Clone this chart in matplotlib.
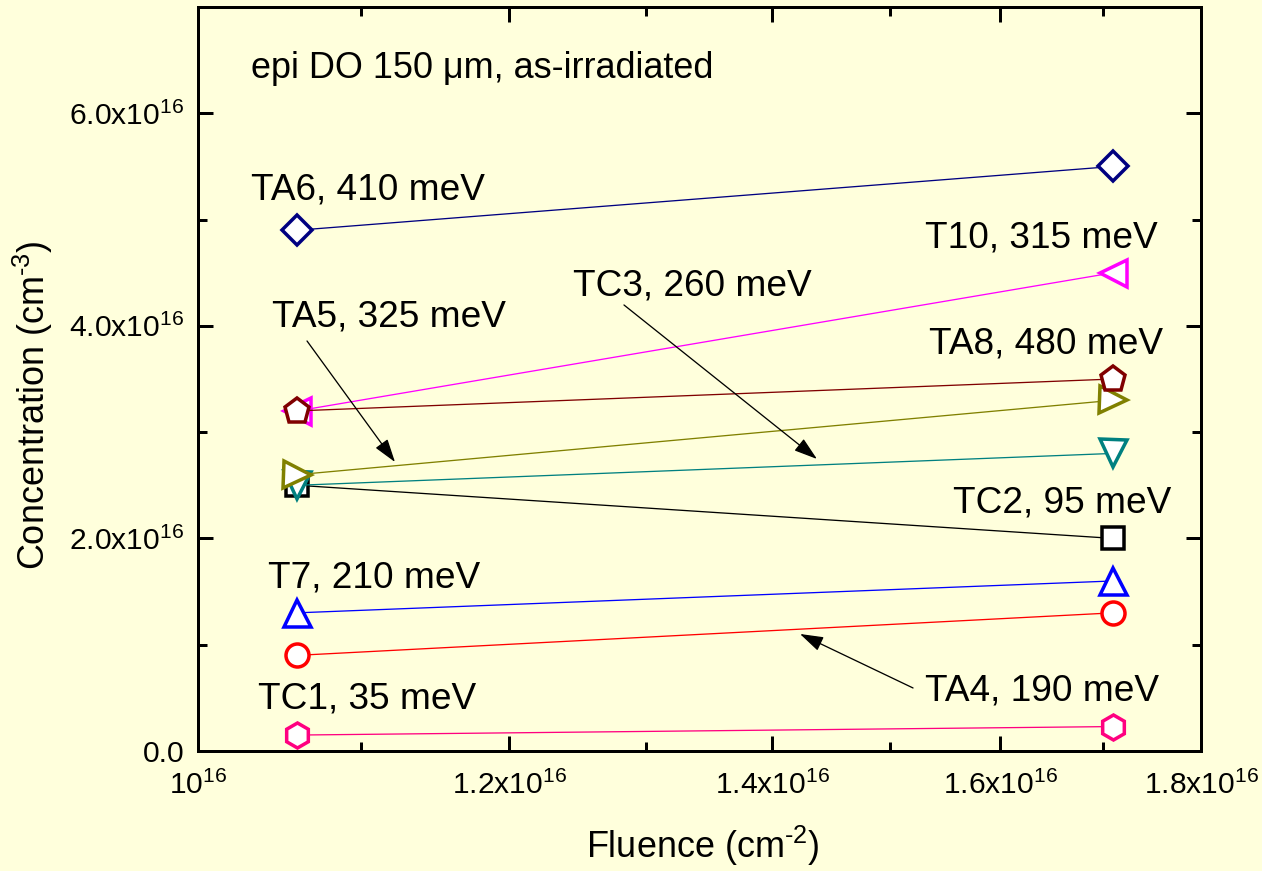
import matplotlib
matplotlib.use("Agg")
import matplotlib.pyplot as plt
from matplotlib.ticker import FixedLocator, NullFormatter

plt.rcParams['font.family'] = ['Liberation Sans', 'DejaVu Sans']
plt.rcParams['mathtext.fontset'] = 'custom'
plt.rcParams['mathtext.rm'] = 'Liberation Sans'
plt.rcParams['mathtext.it'] = 'Liberation Sans:italic'
plt.rcParams['mathtext.bf'] = 'Liberation Sans:bold'

# ---- data -------------------------------------------------------------
fluence = [1.06e16, 1.71e16]

tc2 = [2.5e16, 2.0e16]     # TC2, 95 meV
tc3 = [2.5e16, 2.8e16]     # TC3, 260 meV
ta5 = [2.6e16, 3.3e16]     # TA5, 325 meV
t10 = [3.2e16, 4.5e16]     # T10, 315 meV
ta8 = [3.2e16, 3.5e16]     # TA8, 480 meV
ta6 = [4.9e16, 5.5e16]     # TA6, 410 meV
t7 = [1.3e16, 1.6e16]      # T7, 210 meV
ta4 = [0.9e16, 1.3e16]     # TA4, 190 meV
tc1 = [0.15e16, 0.23e16]   # TC1, 35 meV

x_major = [1.0e16, 1.2e16, 1.4e16, 1.6e16, 1.8e16]
x_major_labels = [r'$\mathregular{10^{16}}$', r'$\mathregular{1.2x10^{16}}$',
                  r'$\mathregular{1.4x10^{16}}$', r'$\mathregular{1.6x10^{16}}$',
                  r'$\mathregular{1.8x10^{16}}$']
x_minor = [1.1e16, 1.3e16, 1.5e16, 1.7e16]
y_major = [0.0, 2.0e16, 4.0e16, 6.0e16]
y_major_labels = ['0.0', r'$\mathregular{2.0x10^{16}}$',
                  r'$\mathregular{4.0x10^{16}}$', r'$\mathregular{6.0x10^{16}}$']
y_minor = [1.0e16, 3.0e16, 5.0e16]

# ---- figure -----------------------------------------------------------
bg = '#FFFFDC'
fig = plt.figure(figsize=(1262 / 72, 871 / 72), dpi=72, facecolor=bg)
ax = fig.add_axes([198 / 1262, 120 / 871, 1003 / 1262, 744 / 871], facecolor=bg)

mew = 3.5
lw = 1.3
series = [
    (tc2, 'black', 's', 22),
    (tc3, '#008080', 'v', 27),
    (ta5, '#808000', '>', 27),
    (t10, '#FF00FF', '<', 27),
    (ta8, '#800000', 'p', 26),
    (ta6, '#000080', 'D', 21),
    (t7, '#0000FF', '^', 27),
    (ta4, '#FF0000', 'o', 23),
    (tc1, '#FF0080', 'h', 25),
]
for vals, col, mk, ms in series:
    ax.plot(fluence, vals, color=col, lw=lw, marker=mk, ms=ms,
            mfc='white', mec=col, mew=mew, clip_on=False)

ax.set_xscale('log')
ax.set_xlim(1.0e16, 1.8e16)
ax.set_ylim(0, 7.0e16)

ax.xaxis.set_major_locator(FixedLocator(x_major))
ax.set_xticklabels(x_major_labels)
ax.xaxis.set_minor_locator(FixedLocator(x_minor))
ax.xaxis.set_minor_formatter(NullFormatter())
ax.yaxis.set_major_locator(FixedLocator(y_major))
ax.set_yticklabels(y_major_labels)
ax.yaxis.set_minor_locator(FixedLocator(y_minor))
ax.yaxis.set_minor_formatter(NullFormatter())

for s in ax.spines.values():
    s.set_linewidth(3)
ax.tick_params(which='both', direction='in', top=True, right=True,
               width=3, labelsize=30, colors='black')
ax.tick_params(which='major', length=15)
ax.tick_params(which='minor', length=9)
ax.tick_params(axis='x', which='major', pad=20)
ax.tick_params(axis='y', which='major', pad=14)

ax.set_xlabel(r'Fluence (cm$^{\text{-2}}$)', fontsize=36)
ax.xaxis.set_label_coords(0.503, -0.098)
ax.set_ylabel(r'Concentration (cm$^{\text{-3}}$)', fontsize=36)
ax.yaxis.set_label_coords(-0.143, 0.465)

# ---- annotations ------------------------------------------------------
ax.text(0.0528, 0.9046, 'epi DO 150 μm, as-irradiated', transform=ax.transAxes,
        fontsize=36, ha='left', va='baseline')

labels = [
    ('TA6, 410 meV', 0.0528, 0.7419),
    ('T10, 315 meV', 0.7248, 0.6774),
    ('TC3, 260 meV', 0.3739, 0.6129),
    ('TA5, 325 meV', 0.0738, 0.5712),
    ('TA8, 480 meV', 0.7288, 0.5349),
    ('TC2, 95 meV', 0.7527, 0.3212),
    ('T7, 210 meV', 0.0698, 0.2191),
    ('TA4, 190 meV', 0.7248, 0.0685),
    ('TC1, 35 meV', 0.0598, 0.0565),
]
for txt, tx, ty in labels:
    ax.text(tx, ty, txt, transform=ax.transAxes, fontsize=37,
            ha='left', va='baseline')

arrows = [
    ((0.4247, 0.5995), (0.6171, 0.3925)),   # TC3
    ((0.1087, 0.5511), (0.1964, 0.3884)),   # TA5
    ((0.7129, 0.0847), (0.6002, 0.1573)),   # TA4
]
for tail, head in arrows:
    ax.annotate('', xy=head, xytext=tail, xycoords='axes fraction',
                textcoords='axes fraction',
                arrowprops=dict(arrowstyle='-|>,head_length=1.0,head_width=0.32',
                                mutation_scale=20, color='black', lw=1.3,
                                shrinkA=0, shrinkB=0))

fig.savefig('out.png', dpi=72, facecolor=bg)
